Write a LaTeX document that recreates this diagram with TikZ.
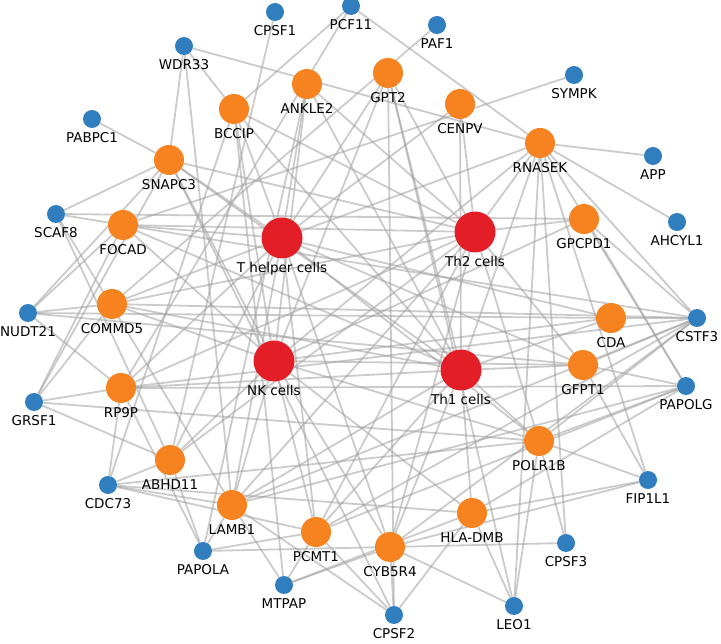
\documentclass[tikz,border=0pt]{standalone}
\usepackage{fontspec}
\setmainfont{DejaVu Sans}
\usetikzlibrary{backgrounds}
\definecolor{cred}{RGB}{228,30,38}
\definecolor{corange}{RGB}{246,130,32}
\definecolor{cblue}{RGB}{49,126,190}
\definecolor{cedge}{RGB}{160,160,160}
\begin{document}
\begin{tikzpicture}[x=1pt,y=-1pt,
  rednode/.style={circle,fill=cred,minimum size=41pt,inner sep=0pt},
  orgnode/.style={circle,fill=corange,minimum size=30pt,inner sep=0pt},
  bluenode/.style={circle,fill=cblue,minimum size=18pt,inner sep=0pt},
  lbl/.style={font=\fontsize{13.5}{15}\selectfont,text height=10pt,text depth=3pt,inner sep=0pt},
  label distance=4pt,
  every label/.style={lbl},
  edge/.style={draw=cedge,line width=1.8pt,opacity=0.55}]
\useasboundingbox (0,0) rectangle (721,644);
% red
\node[rednode,label=below:T helper cells] (TH) at (282,238) {};
\node[rednode,label=below:Th2 cells] (TH2) at (475,232) {};
\node[rednode,label=below:NK cells] (NK) at (274,361) {};
\node[rednode,label=below:Th1 cells] (TH1) at (461,370) {};
% orange
\node[orgnode,label=below:ANKLE2] (ANKLE2) at (307,84) {};
\node[orgnode,label=below:GPT2] (GPT2) at (388,73) {};
\node[orgnode,label=below:CENPV] (CENPV) at (460,104) {};
\node[orgnode,label=below:BCCIP] (BCCIP) at (234,109) {};
\node[orgnode,label=below:SNAPC3] (SNAPC3) at (169,160) {};
\node[orgnode,label=below:RNASEK] (RNASEK) at (540,143) {};
\node[orgnode,label=below:FOCAD] (FOCAD) at (123,225) {};
\node[orgnode,label=below:GPCPD1] (GPCPD1) at (584,219) {};
\node[orgnode,label=below:COMMD5] (COMMD5) at (112,304) {};
\node[orgnode,label=below:CDA] (CDA) at (611,318) {};
\node[orgnode,label=below:RP9P] (RP9P) at (121,388) {};
\node[orgnode,label=below:GFPT1] (GFPT1) at (583,365) {};
\node[orgnode,label=below:ABHD11] (ABHD11) at (170,460) {};
\node[orgnode,label=below:POLR1B] (POLR1B) at (539,441) {};
\node[orgnode,label=below:LAMB1] (LAMB1) at (232,505) {};
\node[orgnode,label=below:HLA-DMB] (HLADMB) at (472,513) {};
\node[orgnode,label=below:PCMT1] (PCMT1) at (316,532) {};
\node[orgnode,label=below:CYB5R4] (CYB5R4) at (390,547) {};
% blue
\node[bluenode,label=below:CPSF1] (CPSF1) at (275,12) {};
\node[bluenode,label=below:PCF11] (PCF11) at (351,6) {};
\node[bluenode,label=below:PAF1] (PAF1) at (437,25) {};
\node[bluenode,label=below:WDR33] (WDR33) at (184,46) {};
\node[bluenode,label=below:SYMPK] (SYMPK) at (574,75) {};
\node[bluenode,label=below:PABPC1] (PABPC1) at (92,119) {};
\node[bluenode,label=below:APP] (APP) at (653,156) {};
\node[bluenode,label=below:AHCYL1] (AHCYL1) at (677,222) {};
\node[bluenode,label=below:SCAF8] (SCAF8) at (56,214) {};
\node[bluenode,label=below:NUDT21] (NUDT21) at (28,313) {};
\node[bluenode,label=below:CSTF3] (CSTF3) at (697,318) {};
\node[bluenode,label=below:PAPOLG] (PAPOLG) at (686,386) {};
\node[bluenode,label=below:GRSF1] (GRSF1) at (34,402) {};
\node[bluenode,label=below:CDC73] (CDC73) at (108,485) {};
\node[bluenode,label=below:FIP1L1] (FIP1L1) at (648,480) {};
\node[bluenode,label=below:PAPOLA] (PAPOLA) at (203,551) {};
\node[bluenode,label=below:CPSF3] (CPSF3) at (566,543) {};
\node[bluenode,label=below:MTPAP] (MTPAP) at (284,585) {};
\node[bluenode,label=below:CPSF2] (CPSF2) at (394,615) {};
\node[bluenode,label=below:LEO1] (LEO1) at (514,606) {};
\begin{scope}[on background layer]
\foreach \a in {ANKLE2,GPT2,BCCIP,SNAPC3,RNASEK,FOCAD,COMMD5,RP9P,ABHD11,LAMB1,PCMT1,CYB5R4,GFPT1,CDA,CENPV,POLR1B}
  \draw[edge] (TH) -- (\a);
\foreach \a in {ANKLE2,GPT2,CENPV,BCCIP,SNAPC3,RNASEK,FOCAD,COMMD5,RP9P,ABHD11,LAMB1,PCMT1,CYB5R4,POLR1B,GFPT1,GPCPD1}
  \draw[edge] (TH2) -- (\a);
\foreach \a in {ANKLE2,GPT2,BCCIP,SNAPC3,RNASEK,FOCAD,COMMD5,ABHD11,LAMB1,PCMT1,CYB5R4,HLADMB,POLR1B,GFPT1,CDA,GPCPD1}
  \draw[edge] (NK) -- (\a);
\foreach \a in {ANKLE2,GPT2,CENPV,BCCIP,SNAPC3,RNASEK,COMMD5,RP9P,FOCAD,LAMB1,PCMT1,CYB5R4,HLADMB,POLR1B,GFPT1,CDA}
  \draw[edge] (TH1) -- (\a);
\foreach \a/\b in {CPSF1/ABHD11,PCF11/BCCIP,PCF11/RNASEK,PCF11/RP9P,PAF1/COMMD5,
  WDR33/SNAPC3,WDR33/BCCIP,WDR33/RNASEK,WDR33/LAMB1,SYMPK/FOCAD,PABPC1/SNAPC3,
  APP/RNASEK,AHCYL1/RNASEK,
  SCAF8/SNAPC3,SCAF8/FOCAD,SCAF8/GPCPD1,SCAF8/ABHD11,SCAF8/LAMB1,
  NUDT21/FOCAD,NUDT21/SNAPC3,NUDT21/COMMD5,NUDT21/RP9P,NUDT21/GFPT1,NUDT21/CDA,
  CSTF3/RNASEK,CSTF3/GPCPD1,CSTF3/CDA,CSTF3/GFPT1,CSTF3/POLR1B,CSTF3/COMMD5,CSTF3/FOCAD,CSTF3/RP9P,CSTF3/LAMB1,CSTF3/CYB5R4,CSTF3/PCMT1,
  PAPOLG/RNASEK,PAPOLG/GFPT1,PAPOLG/POLR1B,PAPOLG/HLADMB,PAPOLG/PCMT1,PAPOLG/LAMB1,PAPOLG/GPCPD1,PAPOLG/RP9P,
  GRSF1/RP9P,GRSF1/COMMD5,GRSF1/ABHD11,GRSF1/SNAPC3,GRSF1/POLR1B,GRSF1/FOCAD,
  CDC73/RP9P,CDC73/ABHD11,CDC73/LAMB1,CDC73/PCMT1,CDC73/HLADMB,CDC73/POLR1B,CDC73/BCCIP,
  FIP1L1/POLR1B,FIP1L1/GFPT1,FIP1L1/RNASEK,FIP1L1/HLADMB,FIP1L1/CYB5R4,
  PAPOLA/LAMB1,PAPOLA/ABHD11,PAPOLA/RP9P,PAPOLA/CYB5R4,PAPOLA/PCMT1,PAPOLA/ANKLE2,
  CPSF3/POLR1B,CPSF3/CYB5R4,CPSF3/RNASEK,
  MTPAP/PCMT1,MTPAP/LAMB1,MTPAP/CYB5R4,MTPAP/HLADMB,MTPAP/BCCIP,
  CPSF2/CYB5R4,CPSF2/HLADMB,CPSF2/PCMT1,CPSF2/LAMB1,CPSF2/SNAPC3,CPSF2/GPT2,
  LEO1/HLADMB,LEO1/POLR1B,LEO1/RNASEK,LEO1/CYB5R4,LEO1/GPT2}
  \draw[edge] (\a) -- (\b);
\end{scope}
\end{tikzpicture}
\end{document}
